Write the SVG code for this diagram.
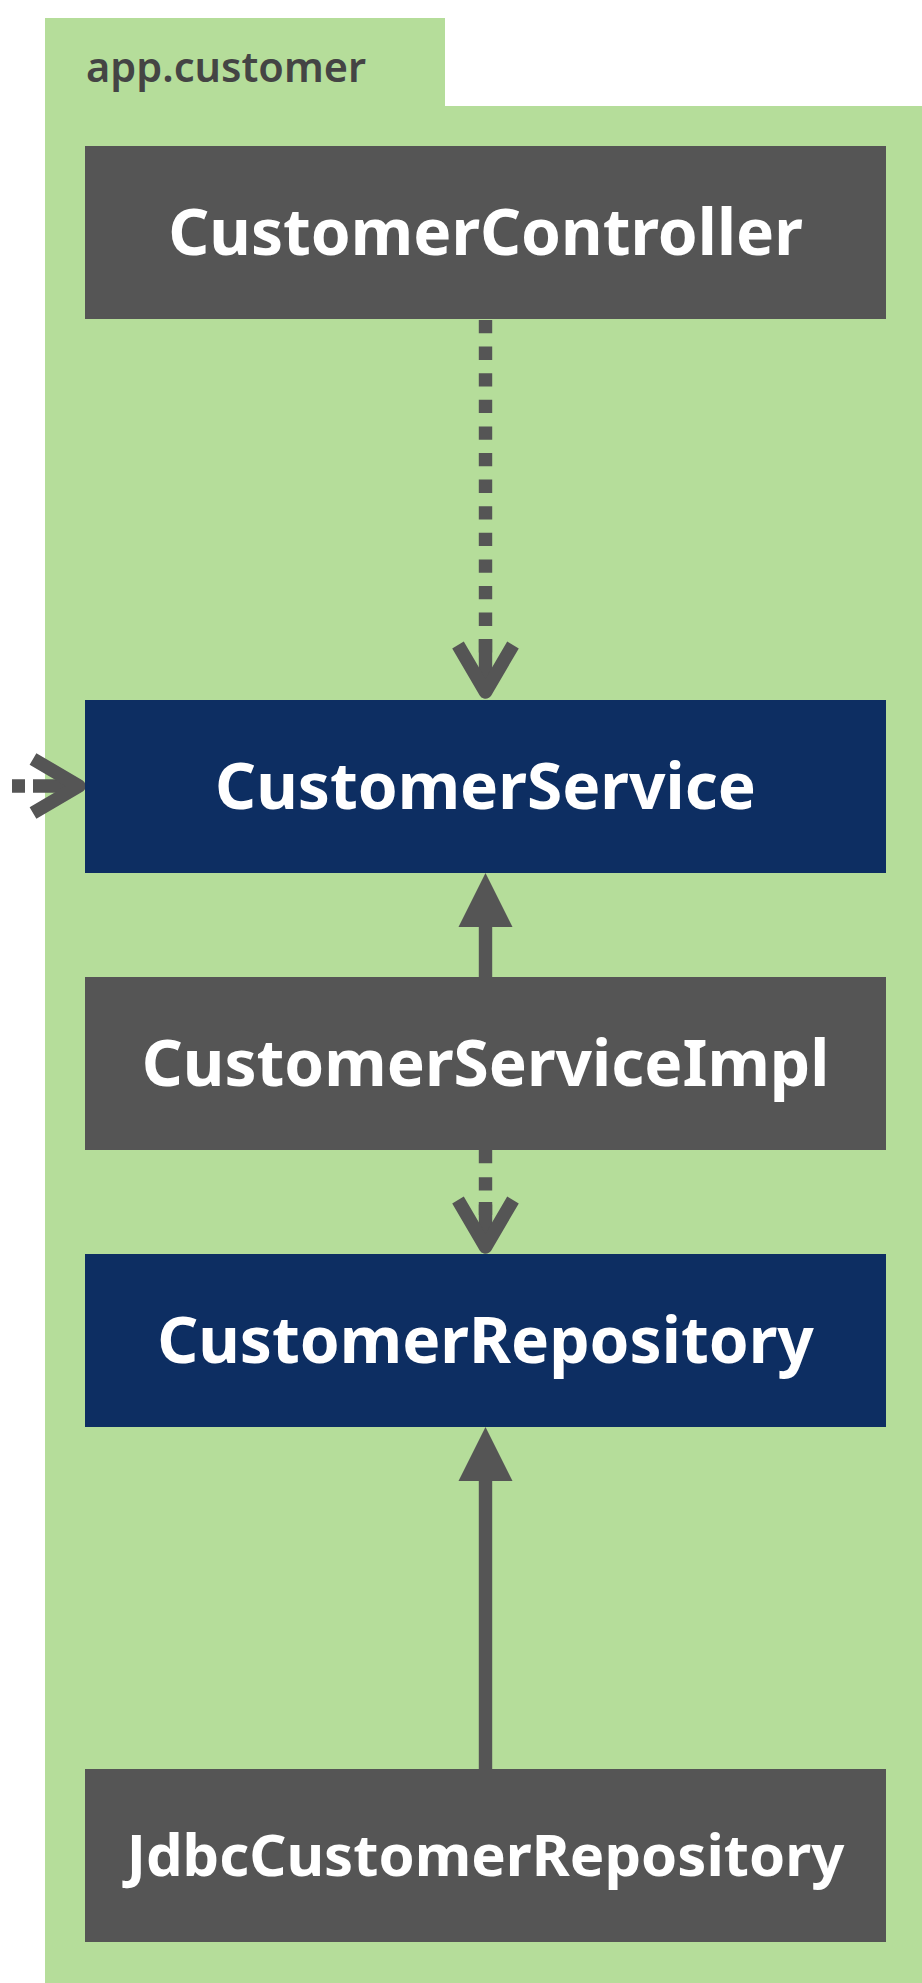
<svg xmlns="http://www.w3.org/2000/svg" width="922" height="1983" viewBox="0 0 922 1983">
<style>
.pkg{fill:#b5dd9a}
.comp{fill:#555555}
.intf{fill:#0d2e62}
.lbl{font-family:"Noto Sans","Open Sans",sans-serif;font-weight:700;font-size:64px;fill:#ffffff;text-anchor:middle}
.title{font-family:"Noto Sans","Open Sans",sans-serif;font-weight:600;font-size:41.5px;fill:#444444}
.dash{stroke:#555555;stroke-width:13.4;fill:none;stroke-dasharray:13.3 13.3}
.solid{stroke:#555555;stroke-width:13.4;fill:none}
.open{stroke:#555555;stroke-width:13.4;fill:none;stroke-linejoin:round;stroke-linecap:butt}
.head{fill:#555555}
</style>
<g id="package-app-customer">
<rect class="pkg" x="45" y="18" width="400" height="90"/>
<rect class="pkg" x="45" y="106" width="880" height="1880"/>
<text class="title" x="86" y="82">app.customer</text>
</g>
<g id="connectors">
<path class="dash" d="M485.5,320 V653"/>
<path class="solid" d="M485.5,639 V692"/>
<path class="open" d="M458,645 L485.5,692 L513,645"/>
<path class="solid" d="M12,786 H25 M33,786 H79"/>
<path class="open" d="M33,759 L79,786 L33,813"/>
<path class="solid" d="M485.5,977 V926"/>
<path class="head" d="M485.5,873 L512.5,927 L458.5,927 Z"/>
<path class="dash" d="M485.5,1150 V1215" style="stroke-dasharray:13.3 14"/>
<path class="solid" d="M485.5,1202 V1247"/>
<path class="open" d="M458,1200 L485.5,1247 L513,1200"/>
<path class="solid" d="M485.5,1769 V1480"/>
<path class="head" d="M485.5,1427 L512.5,1481 L458.5,1481 Z"/>
</g>
<g id="CustomerController">
<rect class="comp" x="85" y="146" width="801" height="173"/>
<text class="lbl" x="485.5" y="255">CustomerController</text>
</g>
<g id="CustomerService">
<rect class="intf" x="85" y="700" width="801" height="173"/>
<text class="lbl" x="485.5" y="809">CustomerService</text>
</g>
<g id="CustomerServiceImpl">
<rect class="comp" x="85" y="977" width="801" height="173"/>
<text class="lbl" x="485.5" y="1086">CustomerServiceImpl</text>
</g>
<g id="CustomerRepository">
<rect class="intf" x="85" y="1254" width="801" height="173"/>
<text class="lbl" x="485.5" y="1363">CustomerRepository</text>
</g>
<g id="JdbcCustomerRepository">
<rect class="comp" x="85" y="1769" width="801" height="173"/>
<text class="lbl" x="485.5" y="1876" style="font-size:58px">JdbcCustomerRepository</text>
</g>
</svg>
